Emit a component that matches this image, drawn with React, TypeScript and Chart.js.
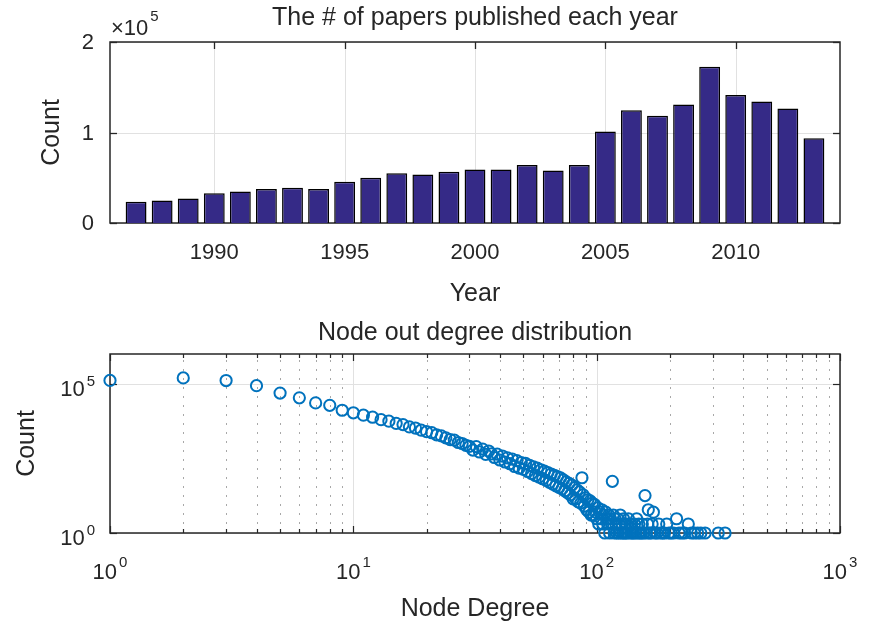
import React, { useEffect, useRef } from "react";
import { Chart, registerables } from "chart.js";

Chart.register(...registerables);

const FONT = '"Liberation Sans", Arial, Helvetica, sans-serif';
const INK = "#262626";
const GRID = "#e1e1e1";
const MINOR_GRID = "#a8a8a8";
const BAR_FILL = "#352a87";
const MARKER = "#0072bd";

const W = 877;
const TOP_H = 312;
const BOTTOM_H = 313;

// Papers published per year
const years = [
  1987, 1988, 1989, 1990, 1991, 1992, 1993, 1994, 1995, 1996, 1997, 1998, 1999,
  2000, 2001, 2002, 2003, 2004, 2005, 2006, 2007, 2008, 2009, 2010, 2011, 2012, 2013,
];
const paperCounts = [
  23600, 25000, 27000, 33000, 34700, 37600, 39000, 37600, 45700, 50000, 55000, 53500, 56500,
  59000, 59000, 64200, 58000, 64200, 101100, 124700, 118500, 131000, 172700, 141300, 134300,
  126600, 93700,
];
const yearTicks = [1990, 1995, 2000, 2005, 2010];
const countTicks = [0, 100000, 200000];
const countTickLabels = ["0", "1", "2"];

// Node out-degree distribution
const degrees = [
  1, 2, 3, 4, 5, 6, 7, 8, 9, 10, 11, 12, 13, 14, 15, 16, 17, 18, 19, 20,
  21, 22, 23, 24, 25, 26, 27, 28, 29, 30, 31, 32, 33, 34, 35, 36, 37, 38, 39, 40,
  41, 42, 43, 44, 45, 46, 47, 48, 49, 50, 51, 52, 53, 54, 55, 56, 57, 58, 59, 60,
  61, 62, 63, 64, 65, 66, 67, 68, 69, 70, 71, 72, 73, 74, 75, 76, 77, 78, 79, 80,
  81, 82, 83, 84, 85, 86, 87, 88, 89, 90, 91, 92, 93, 94, 95, 96, 97, 98, 99, 100,
  101, 102, 103, 104, 105, 106, 107, 108, 109, 110, 111, 112, 113, 114, 115, 116, 117, 118,
  119, 120, 121, 122, 123, 124, 125, 126, 127, 128, 129, 130, 131, 132, 133, 134, 135, 137,
  138, 139, 140, 142, 143, 145, 146, 148, 149, 151, 153, 154, 156, 158, 160, 162, 163, 165,
  167, 169, 171, 174, 177, 180, 183, 187, 190, 194, 198, 202, 207, 213, 218, 224, 230, 238,
  245, 252, 260, 268, 279, 316, 337,
];
const nodeCounts = [
  130000, 158000, 129000, 87000, 49000, 34000, 23000, 19000, 13000, 10700,
  8900, 7600, 6300, 5600, 4700, 4300, 3600, 3300, 2800, 2500,
  2300, 1950, 1800, 1550, 1350, 1300, 1080, 1000, 870, 800,
  600, 790, 520, 650, 430, 560, 450, 340, 440, 280,
  380, 240, 330, 210, 300, 170, 265, 150, 230, 135,
  215, 115, 185, 98, 165, 84, 150, 75, 132, 66,
  118, 58, 105, 50, 95, 44, 86, 38, 78, 34,
  70, 30, 60, 26, 52, 22, 46, 19, 40, 14,
  33, 14, 28, 11, 24, 10, 71, 19, 8, 15,
  6, 13, 5, 12, 4, 10, 4, 9, 5, 3,
  7, 2, 5, 3, 6, 2, 4, 1, 5, 3, 2, 4, 1, 3, 2, 54, 4, 1,
  3, 2, 1, 3, 1, 2, 4, 1, 2, 1, 3, 1, 2, 1, 2, 1, 3, 2,
  1, 2, 1, 1, 2, 1, 3, 1, 2, 1, 1, 2, 1, 18, 1, 2, 6, 1,
  1, 2, 5, 1, 1, 2, 1, 1, 1, 2, 1, 1, 1, 3, 1, 1, 1, 2,
  1, 1, 1, 1, 1, 1, 1,
];
const degreeDecades = [1, 10, 100, 1000];
const degreeDecadeExps = ["0", "1", "2", "3"];
const degreeMinorTicks = [
  2, 3, 4, 5, 6, 7, 8, 9, 20, 30, 40, 50, 60, 70, 80, 90, 200, 300, 400, 500, 600, 700, 800, 900,
];
const nodeCountTicks = [1, 100000];
const nodeCountExps = ["0", "5"];

const snap = (v: number) => Math.round(v) + 0.5;

function vLine(ctx: CanvasRenderingContext2D, x: number, y1: number, y2: number) {
  ctx.beginPath();
  ctx.moveTo(x, y1);
  ctx.lineTo(x, y2);
  ctx.stroke();
}

function hLine(ctx: CanvasRenderingContext2D, x1: number, x2: number, y: number) {
  ctx.beginPath();
  ctx.moveTo(x1, y);
  ctx.lineTo(x2, y);
  ctx.stroke();
}

function drawText(
  ctx: CanvasRenderingContext2D,
  text: string,
  x: number,
  y: number,
  size: number,
  align: CanvasTextAlign = "center",
  rotate = 0
) {
  ctx.save();
  ctx.translate(x, y);
  if (rotate) ctx.rotate(rotate);
  ctx.font = `${size}px ${FONT}`;
  ctx.fillStyle = INK;
  ctx.textAlign = align;
  ctx.textBaseline = "middle";
  ctx.fillText(text, 0, 0);
  ctx.restore();
}

// "10" with a raised exponent
function drawPow(
  ctx: CanvasRenderingContext2D,
  base: string,
  exp: string,
  x: number,
  y: number,
  align: "left" | "center" | "right",
  raise = 9
) {
  ctx.save();
  ctx.fillStyle = INK;
  ctx.textBaseline = "middle";
  ctx.textAlign = "left";
  ctx.font = `22px ${FONT}`;
  const wb = ctx.measureText(base).width;
  ctx.font = `15px ${FONT}`;
  const we = ctx.measureText(exp).width;
  const gap = 2;
  const total = wb + gap + we;
  const left = align === "left" ? x : align === "center" ? x - total / 2 : x - total;
  ctx.font = `22px ${FONT}`;
  ctx.fillText(base, left, y);
  ctx.font = `15px ${FONT}`;
  ctx.fillText(exp, left + wb + gap, y - raise);
  ctx.restore();
}

const barAxesPlugin = {
  id: "barAxes",
  beforeDatasetsDraw(chart: any) {
    const { ctx, chartArea: a } = chart;
    const xs = chart.scales.x;
    const ys = chart.scales.y;
    ctx.save();
    ctx.lineWidth = 1;
    ctx.strokeStyle = GRID;
    yearTicks.forEach((v) => vLine(ctx, snap(xs.getPixelForValue(v)), a.top, a.bottom));
    countTicks.forEach((v) => hLine(ctx, a.left, a.right, snap(ys.getPixelForValue(v))));
    ctx.strokeStyle = INK;
    ctx.lineWidth = 1.5;
    ctx.strokeRect(a.left, a.top, a.right - a.left, a.bottom - a.top);
    ctx.lineWidth = 1.3;
    yearTicks.forEach((v) => {
      const px = snap(xs.getPixelForValue(v));
      vLine(ctx, px, a.bottom, a.bottom - 7);
      vLine(ctx, px, a.top, a.top + 7);
    });
    countTicks.forEach((v) => {
      const py = snap(ys.getPixelForValue(v));
      hLine(ctx, a.left, a.left + 7, py);
      hLine(ctx, a.right - 7, a.right, py);
    });
    ctx.restore();
  },
  afterDraw(chart: any) {
    const { ctx, chartArea: a } = chart;
    const xs = chart.scales.x;
    const ys = chart.scales.y;
    const cx = (a.left + a.right) / 2;
    yearTicks.forEach((v) => drawText(ctx, String(v), xs.getPixelForValue(v), a.bottom + 30, 22));
    countTicks.forEach((v, i) =>
      drawText(ctx, countTickLabels[i], a.left - 16, ys.getPixelForValue(v) + 1, 22, "right")
    );
    drawPow(ctx, "\u00d710", "5", a.left + 1, 29, "left", 12);
    drawText(ctx, "The # of papers published each year", cx, 18, 25);
    drawText(ctx, "Year", cx, 294, 25);
    drawText(ctx, "Count", 52, (a.top + a.bottom) / 2, 25, "center", -Math.PI / 2);
  },
};

const scatterAxesPlugin = {
  id: "scatterAxes",
  beforeDatasetsDraw(chart: any) {
    const { ctx, chartArea: a } = chart;
    const xs = chart.scales.x;
    const ys = chart.scales.y;
    ctx.save();
    ctx.lineWidth = 1;
    ctx.strokeStyle = MINOR_GRID;
    ctx.setLineDash([2, 7]);
    degreeMinorTicks.forEach((v) => vLine(ctx, snap(xs.getPixelForValue(v)), a.bottom, a.top));
    ctx.setLineDash([]);
    ctx.strokeStyle = GRID;
    degreeDecades.forEach((v) => vLine(ctx, snap(xs.getPixelForValue(v)), a.top, a.bottom));
    nodeCountTicks.forEach((v) => hLine(ctx, a.left, a.right, snap(ys.getPixelForValue(v))));
    ctx.strokeStyle = INK;
    ctx.lineWidth = 1.5;
    ctx.strokeRect(a.left, a.top, a.right - a.left, a.bottom - a.top);
    ctx.lineWidth = 1.2;
    degreeMinorTicks.forEach((v) => {
      const px = snap(xs.getPixelForValue(v));
      vLine(ctx, px, a.bottom, a.bottom - 4);
      vLine(ctx, px, a.top, a.top + 4);
    });
    degreeDecades.forEach((v) => {
      const px = snap(xs.getPixelForValue(v));
      vLine(ctx, px, a.bottom, a.bottom - 7);
      vLine(ctx, px, a.top, a.top + 7);
    });
    nodeCountTicks.forEach((v) => {
      const py = snap(ys.getPixelForValue(v));
      hLine(ctx, a.left, a.left + 7, py);
      hLine(ctx, a.right - 7, a.right, py);
    });
    ctx.restore();
  },
  afterDraw(chart: any) {
    const { ctx, chartArea: a } = chart;
    const xs = chart.scales.x;
    const ys = chart.scales.y;
    const cx = (a.left + a.right) / 2;
    degreeDecades.forEach((v, i) =>
      drawPow(ctx, "10", degreeDecadeExps[i], xs.getPixelForValue(v), a.bottom + 40, "center", 10)
    );
    nodeCountTicks.forEach((v, i) =>
      drawPow(ctx, "10", nodeCountExps[i], a.left - 15, ys.getPixelForValue(v) + 6, "right", 8)
    );
    drawText(ctx, "Node out degree distribution", cx, 21, 25);
    drawText(ctx, "Node Degree", cx, 297, 25);
    drawText(ctx, "Count", 27, (a.top + a.bottom) / 2, 25, "center", -Math.PI / 2);
  },
};

function PapersChart() {
  const ref = useRef<HTMLCanvasElement | null>(null);
  useEffect(() => {
    if (!ref.current) return;
    const chart = new Chart(ref.current, {
      type: "bar",
      data: {
        datasets: [
          {
            data: years.map((x, i) => ({ x, y: paperCounts[i] })),
            backgroundColor: BAR_FILL,
            borderColor: "#000000",
            borderWidth: 1.5,
            barPercentage: 0.8,
            categoryPercentage: 1,
          },
        ],
      },
      options: {
        responsive: false,
        animation: false,
        events: [],
        layout: { padding: { left: 110, right: 37, top: 42, bottom: TOP_H - 223 } },
        scales: {
          x: { type: "linear", min: 1986, max: 2014, offset: false, display: false },
          y: { type: "linear", min: 0, max: 200000, display: false },
        },
        plugins: { legend: { display: false }, tooltip: { enabled: false } },
      },
      plugins: [barAxesPlugin],
    } as any);
    return () => chart.destroy();
  }, []);
  return (
    <canvas
      ref={ref}
      width={W}
      height={TOP_H}
      style={{ position: "absolute", left: 0, top: 0, width: W, height: TOP_H }}
    />
  );
}

function DegreeChart() {
  const ref = useRef<HTMLCanvasElement | null>(null);
  useEffect(() => {
    if (!ref.current) return;
    const chart = new Chart(ref.current, {
      type: "scatter",
      data: {
        datasets: [
          {
            data: degrees.map((x, i) => ({ x, y: nodeCounts[i] })),
            pointStyle: "circle",
            pointRadius: 5.6,
            pointBorderWidth: 2,
            pointBorderColor: MARKER,
            pointBackgroundColor: "rgba(0,0,0,0)",
            showLine: false,
            clip: false,
          },
        ],
      },
      options: {
        responsive: false,
        animation: false,
        events: [],
        layout: { padding: { left: 110, right: 37, top: 42, bottom: BOTTOM_H - 221 } },
        scales: {
          x: { type: "logarithmic", min: 1, max: 1000, display: false },
          y: { type: "logarithmic", min: 1, max: 1000000, display: false },
        },
        plugins: { legend: { display: false }, tooltip: { enabled: false } },
      },
      plugins: [scatterAxesPlugin],
    } as any);
    return () => chart.destroy();
  }, []);
  return (
    <canvas
      ref={ref}
      width={W}
      height={BOTTOM_H}
      style={{ position: "absolute", left: 0, top: TOP_H, width: W, height: BOTTOM_H }}
    />
  );
}

export default function App() {
  return (
    <div
      style={{
        position: "absolute",
        left: 0,
        top: 0,
        width: W,
        height: TOP_H + BOTTOM_H,
        background: "#ffffff",
        overflow: "hidden",
      }}
    >
      <PapersChart />
      <DegreeChart />
    </div>
  );
}
